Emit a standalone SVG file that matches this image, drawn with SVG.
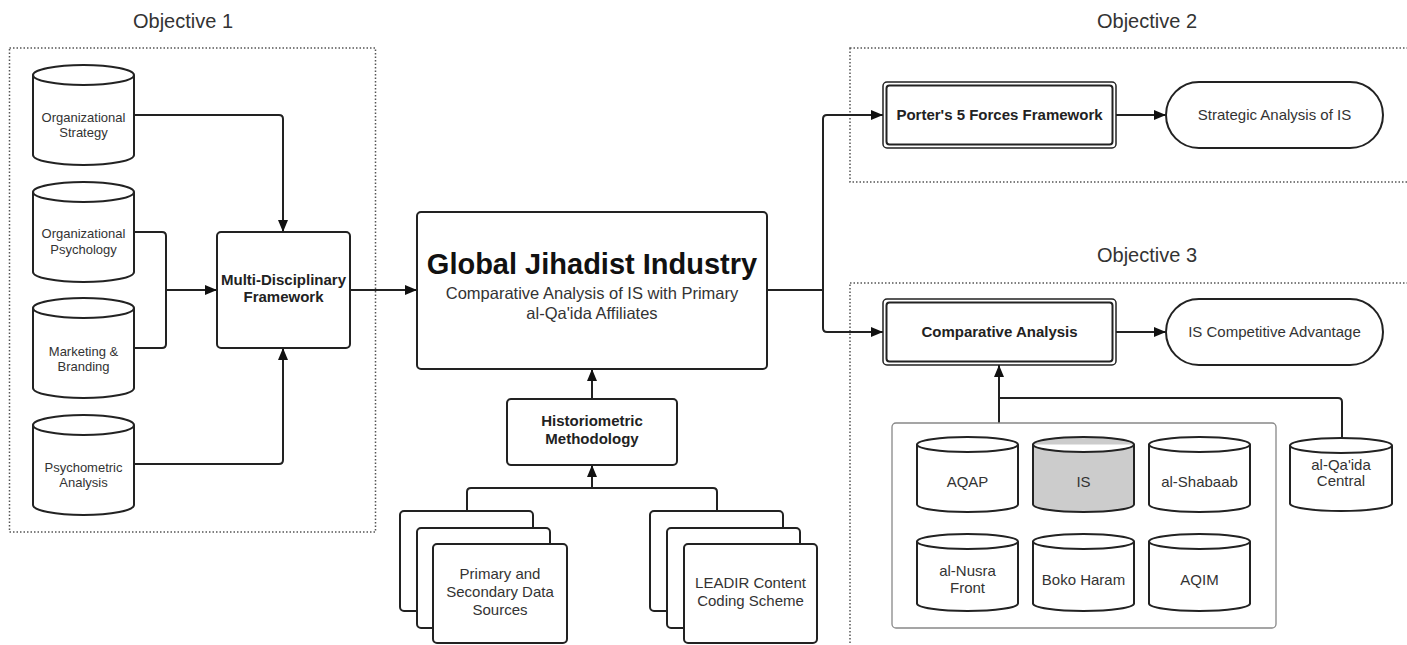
<svg xmlns="http://www.w3.org/2000/svg" width="1407" height="645" viewBox="0 0 1407 645">
<style>
  text { font-family: "Liberation Sans", Arial, sans-serif; fill: #333; text-anchor: middle; }
  .t13 { font-size: 13px; }
  .t15 { font-size: 15px; }
  .b15 { font-size: 15px; font-weight: bold; fill: #222; }
  .obj { font-size: 20px; }
  .title { font-size: 29px; font-weight: bold; fill: #111; }
  .sub { font-size: 16.5px; }
  .shape { fill: #fff; stroke: #222; stroke-width: 2; }
  .gray { fill: #cccccc; }
  .dotted { fill: none; stroke: #555; stroke-width: 1.5; stroke-dasharray: 1.5 2; }
  .group { fill: #fff; stroke: #888; stroke-width: 1.3; }
  .conn { fill: none; stroke: #222; stroke-width: 2; }
  .arr { marker-end: url(#ah); }
</style>
<defs>
  <marker id="ah" markerUnits="userSpaceOnUse" markerWidth="13" markerHeight="10" refX="12" refY="5" orient="auto">
    <path d="M0,0 L12,5 L0,10 Z" fill="#111"/>
  </marker>
</defs>
<rect width="1407" height="645" fill="#fff"/>

<!-- containers -->
<g id="objective1">
  <rect class="dotted" x="9.5" y="48" width="366" height="484"/>
  <text class="obj" x="183" y="28">Objective 1</text>
</g>
<g id="objective2">
  <rect class="dotted" x="850" y="48" width="600" height="134"/>
  <text class="obj" x="1147" y="28">Objective 2</text>
</g>
<g id="objective3">
  <rect class="dotted" x="850" y="283" width="600" height="420"/>
  <text class="obj" x="1147" y="262">Objective 3</text>
</g>

<g id="connectors">
  <path class="conn arr" d="M134,115 H279 Q283,115 283,119 V232"/>
  <path class="conn" d="M134,232 H162 Q166,232 166,236 V344 Q166,348 162,348 H134"/>
  <path class="conn arr" d="M166,290 H217"/>
  <path class="conn arr" d="M134,464 H279 Q283,464 283,460 V348"/>
  <path class="conn arr" d="M350,290 H417"/>
  <path class="conn arr" d="M592,399 V369"/>
  <path class="conn" d="M467,511 V492 Q467,488 471,488 H713 Q717,488 717,492 V511"/>
  <path class="conn arr" d="M592,488 V465"/>
  <path class="conn" d="M767,290 H823"/>
  <path class="conn arr" d="M823,290 V119 Q823,115 827,115 H883"/>
  <path class="conn arr" d="M823,290 V328 Q823,332 827,332 H883"/>
  <path class="conn arr" d="M1116,115 H1166"/>
  <path class="conn arr" d="M1116,332 H1166"/>
  <path class="conn arr" d="M999,423 V365"/>
  <path class="conn" d="M999,398 H1338 Q1342,398 1342,402 V438"/>
</g>

<!-- Objective 1 cylinders -->
<g id="org-strategy">
  <path class="shape" d="M33,75 A50.5,10 0 0 1 134,75 V155 A50.5,10 0 0 1 33,155 Z M33,75 A50.5,10 0 0 0 134,75"/>
  <text class="t13" x="83.5" y="122">Organizational</text>
  <text class="t13" x="83.5" y="137">Strategy</text>
</g>
<g id="org-psychology">
  <path class="shape" d="M33,192 A50.5,10 0 0 1 134,192 V272 A50.5,10 0 0 1 33,272 Z M33,192 A50.5,10 0 0 0 134,192"/>
  <text class="t13" x="83.5" y="238">Organizational</text>
  <text class="t13" x="83.5" y="254">Psychology</text>
</g>
<g id="marketing">
  <path class="shape" d="M33,308 A50.5,10 0 0 1 134,308 V388 A50.5,10 0 0 1 33,388 Z M33,308 A50.5,10 0 0 0 134,308"/>
  <text class="t13" x="83.5" y="355.5">Marketing &amp;</text>
  <text class="t13" x="83.5" y="370.5">Branding</text>
</g>
<g id="psychometric">
  <path class="shape" d="M33,425 A50.5,10 0 0 1 134,425 V505 A50.5,10 0 0 1 33,505 Z M33,425 A50.5,10 0 0 0 134,425"/>
  <text class="t13" x="83.5" y="471.5">Psychometric</text>
  <text class="t13" x="83.5" y="486.5">Analysis</text>
</g>

<g id="multi-disciplinary">
  <rect class="shape" x="217" y="232" width="133" height="116" rx="4"/>
  <text class="b15" x="283.5" y="285">Multi-Disciplinary</text>
  <text class="b15" x="283.5" y="302">Framework</text>
</g>

<g id="global">
  <rect class="shape" x="417" y="212" width="350" height="157" rx="4"/>
  <text class="title" x="592" y="274">Global Jihadist Industry</text>
  <text class="sub" x="592" y="299">Comparative Analysis of IS with Primary</text>
  <text class="sub" x="592" y="319">al-Qa'ida Affiliates</text>
</g>

<g id="historiometric">
  <rect class="shape" x="507" y="399" width="170" height="66" rx="4"/>
  <text class="b15" x="592" y="426">Historiometric</text>
  <text class="b15" x="592" y="444">Methodology</text>
</g>

<g id="data-sources">
  <rect class="shape" x="400" y="511" width="133" height="100" rx="4"/>
  <rect class="shape" x="417" y="528" width="133" height="100" rx="4"/>
  <rect class="shape" x="433" y="544" width="134" height="99" rx="4"/>
  <text class="t15" x="500" y="579">Primary and</text>
  <text class="t15" x="500" y="597">Secondary Data</text>
  <text class="t15" x="500" y="615">Sources</text>
</g>

<g id="leadir">
  <rect class="shape" x="650" y="511" width="133" height="100" rx="4"/>
  <rect class="shape" x="667" y="528" width="133" height="100" rx="4"/>
  <rect class="shape" x="684" y="544" width="133" height="99" rx="4"/>
  <text class="t15" x="750.5" y="588">LEADIR Content</text>
  <text class="t15" x="750.5" y="606">Coding Scheme</text>
</g>

<g id="porter">
  <rect fill="#fff" stroke="#222" stroke-width="1.5" x="883" y="82" width="233" height="66" rx="4"/>
  <rect fill="none" stroke="#222" stroke-width="2" x="886.5" y="85.5" width="226" height="59" rx="3"/>
  <text class="b15" x="999.5" y="120">Porter's 5 Forces Framework</text>
</g>
<g id="strategic-analysis">
  <rect class="shape" x="1166" y="82" width="217" height="66" rx="33"/>
  <text class="t15" x="1274.5" y="120">Strategic Analysis of IS</text>
</g>

<g id="comparative">
  <rect fill="#fff" stroke="#222" stroke-width="1.5" x="883" y="299" width="233" height="66" rx="4"/>
  <rect fill="none" stroke="#222" stroke-width="2" x="886.5" y="302.5" width="226" height="59" rx="3"/>
  <text class="b15" x="999.5" y="337">Comparative Analysis</text>
</g>
<g id="competitive-advantage">
  <rect class="shape" x="1166" y="299" width="217" height="66" rx="33"/>
  <text class="t15" x="1274.5" y="337">IS Competitive Advantage</text>
</g>

<g id="affiliates">
  <rect class="group" x="892" y="423" width="384" height="205" rx="4"/>
</g>
<g id="aqap">
  <path class="shape" d="M917,444.5 A50.5,7.5 0 0 1 1018,444.5 V504.5 A50.5,7.5 0 0 1 917,504.5 Z M917,444.5 A50.5,7.5 0 0 0 1018,444.5"/>
  <text class="t15" x="967.5" y="487">AQAP</text>
</g>
<g id="is">
  <path class="shape gray" d="M1033,444.5 A50.5,7.5 0 0 1 1134,444.5 V504.5 A50.5,7.5 0 0 1 1033,504.5 Z M1033,444.5 A50.5,7.5 0 0 0 1134,444.5"/>
  <text class="t15" x="1083.5" y="487">IS</text>
</g>
<g id="al-shabaab">
  <path class="shape" d="M1149,444.5 A50.5,7.5 0 0 1 1250,444.5 V504.5 A50.5,7.5 0 0 1 1149,504.5 Z M1149,444.5 A50.5,7.5 0 0 0 1250,444.5"/>
  <text class="t15" x="1199.5" y="487">al-Shabaab</text>
</g>
<g id="al-nusra">
  <path class="shape" d="M917,541.5 A50.5,7.5 0 0 1 1018,541.5 V603.5 A50.5,7.5 0 0 1 917,603.5 Z M917,541.5 A50.5,7.5 0 0 0 1018,541.5"/>
  <text class="t15" x="967.5" y="576">al-Nusra</text>
  <text class="t15" x="967.5" y="593">Front</text>
</g>
<g id="boko-haram">
  <path class="shape" d="M1033,541.5 A50.5,7.5 0 0 1 1134,541.5 V603.5 A50.5,7.5 0 0 1 1033,603.5 Z M1033,541.5 A50.5,7.5 0 0 0 1134,541.5"/>
  <text class="t15" x="1083.5" y="585">Boko Haram</text>
</g>
<g id="aqim">
  <path class="shape" d="M1149,541.5 A50.5,7.5 0 0 1 1250,541.5 V603.5 A50.5,7.5 0 0 1 1149,603.5 Z M1149,541.5 A50.5,7.5 0 0 0 1250,541.5"/>
  <text class="t15" x="1199.5" y="585">AQIM</text>
</g>
<g id="al-qaida-central">
  <path class="shape" d="M1290,445.5 A51,7.5 0 0 1 1392,445.5 V503.5 A51,7.5 0 0 1 1290,503.5 Z M1290,445.5 A51,7.5 0 0 0 1392,445.5"/>
  <text class="t15" x="1341" y="470">al-Qa'ida</text>
  <text class="t15" x="1341" y="486">Central</text>
</g>
</svg>
